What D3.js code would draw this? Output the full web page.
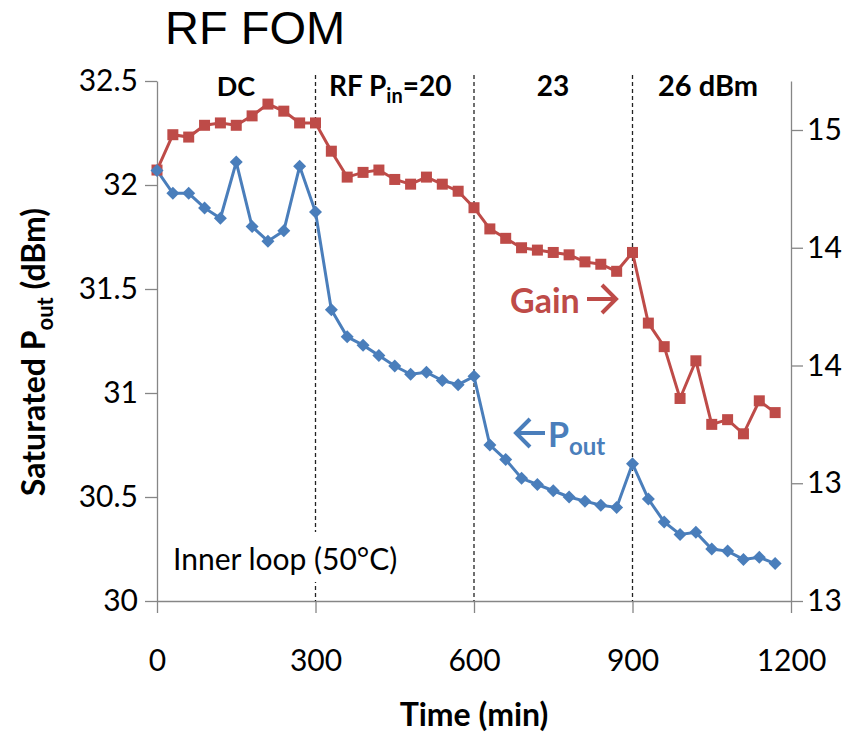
<!DOCTYPE html>
<html>
<head>
<meta charset="utf-8">
<script src="https://cdn.jsdelivr.net/npm/d3@7"></script>
<style>
  body { margin: 0; background: #fff; }
  .tick text { font-family: Lato, "Open Sans", sans-serif; fill: #000; }
</style>
</head>
<body>
<div id="chart"></div>
<script>
// data
var times = [0, 30, 60, 90, 120, 150, 180, 210, 240, 270, 300,
    330, 360, 390, 420, 450, 480, 510, 540, 570, 600,
    630, 660, 690, 720, 750, 780, 810, 840, 870, 900,
    930, 960, 990, 1020, 1050, 1080, 1110, 1140, 1170];
var pout = [32.07, 31.96, 31.96, 31.89, 31.84, 32.11, 31.80, 31.73, 31.78, 32.09, 31.87,
    31.40, 31.27, 31.23, 31.18, 31.13, 31.09, 31.10, 31.06, 31.04, 31.08,
    30.75, 30.68, 30.59, 30.56, 30.53, 30.50, 30.48, 30.46, 30.45, 30.66,
    30.49, 30.38, 30.32, 30.33, 30.25, 30.24, 30.20, 30.21, 30.18];
var gain = [14.83, 14.98, 14.97, 15.02, 15.03, 15.02, 15.06, 15.11, 15.08, 15.03, 15.03,
    14.91, 14.80, 14.82, 14.83, 14.79, 14.77, 14.80, 14.77, 14.74, 14.67,
    14.58, 14.54, 14.50, 14.49, 14.48, 14.47, 14.44, 14.43, 14.40, 14.48,
    14.18, 14.08, 13.86, 14.02, 13.75, 13.77, 13.71, 13.85, 13.80];
var xTicks = [0, 300, 600, 900, 1200];
var leftTicks = [30, 30.5, 31, 31.5, 32, 32.5];
var rightTicks = [13, 13.5, 14, 14.5, 15];
var rightTickLabels = ["13", "13", "14", "14", "15"];
var phaseBounds = [300, 600, 900];

var svgWidth = 865;
var svgHeight = 732;
var margin = { top: 81, right: 74, bottom: 131, left: 157 };
var width = svgWidth - margin.left - margin.right;
var height = svgHeight - margin.top - margin.bottom;

var blue = "#4A7EBB";
var red = "#BE4B48";
var axisGray = "#868686";

var svg = d3.select("#chart")
    .append("svg")
    .attr("width", svgWidth)
    .attr("height", svgHeight)
    .style("background", "#fff");

var chartGroup = svg.append("g")
    .attr("transform", `translate(${margin.left}, ${margin.top})`);

var xScale = d3.scaleLinear().domain([0, 1200]).range([0, width]);
var yLeft = d3.scaleLinear().domain([30, 32.5]).range([height, 0]);
// right axis: 0.5 per 117.75px, 13 at the bottom
var yRight = d3.scaleLinear().domain([13, 13 + height / 235.5]).range([height, 0]);

// axes
function styleAxis(g) {
    g.select(".domain").attr("stroke", axisGray).attr("stroke-width", 1.3);
    g.selectAll(".tick line").attr("stroke", axisGray).attr("stroke-width", 1.3);
    g.selectAll(".tick text").attr("font-size", "30px");
}

chartGroup.append("g")
    .attr("transform", `translate(0, ${height})`)
    .call(d3.axisBottom(xScale).tickValues(xTicks).tickSize(12).tickSizeOuter(0).tickPadding(37)
        .tickFormat(d3.format("d")))
    .call(styleAxis);

chartGroup.append("g")
    .call(d3.axisLeft(yLeft).tickValues(leftTicks).tickSize(12).tickSizeOuter(0).tickPadding(7)
        .tickFormat(d3.format("")))
    .call(styleAxis);

chartGroup.append("g")
    .attr("transform", `translate(${width}, 0)`)
    .call(d3.axisRight(yRight).tickValues(rightTicks).tickSize(12).tickSizeOuter(0).tickPadding(4)
        .tickFormat((d, i) => rightTickLabels[i]))
    .call(styleAxis);

// dashed phase boundaries
chartGroup.selectAll(".phase")
    .data(phaseBounds)
    .enter()
    .append("line")
    .attr("class", "phase")
    .attr("x1", d => xScale(d))
    .attr("x2", d => xScale(d))
    .attr("y1", -6)
    .attr("y2", height)
    .attr("stroke", "#222")
    .attr("stroke-width", 1.3)
    .attr("stroke-dasharray", "4,3");

// inner loop text box (white fill hides the dashed line)
chartGroup.append("rect")
    .attr("x", 3)
    .attr("y", 451)
    .attr("width", 262)
    .attr("height", 50)
    .attr("fill", "#fff");
chartGroup.append("text")
    .attr("x", 16)
    .attr("y", 489)
    .attr("font-family", "Lato, sans-serif")
    .attr("font-size", "30px")
    .text("Inner loop (50°C)");

// lines
var poutLine = d3.line().x((d, i) => xScale(times[i])).y(d => yLeft(d));
var gainLine = d3.line().x((d, i) => xScale(times[i])).y(d => yRight(d));

chartGroup.append("path")
    .datum(gain)
    .attr("fill", "none")
    .attr("stroke", red)
    .attr("stroke-width", 3)
    .attr("d", gainLine);

chartGroup.append("path")
    .datum(pout)
    .attr("fill", "none")
    .attr("stroke", blue)
    .attr("stroke-width", 3)
    .attr("d", poutLine);

// markers
chartGroup.append("g")
    .selectAll("rect")
    .data(gain)
    .enter()
    .append("rect")
    .attr("x", (d, i) => xScale(times[i]) - 5.5)
    .attr("y", d => yRight(d) - 5.5)
    .attr("width", 11)
    .attr("height", 11)
    .attr("fill", red);

chartGroup.append("g")
    .selectAll("path")
    .data(pout)
    .enter()
    .append("path")
    .attr("transform", (d, i) => `translate(${xScale(times[i])}, ${yLeft(d)})`)
    .attr("d", "M0,-6.5L6.5,0L0,6.5L-6.5,0Z")
    .attr("fill", blue);

// title
svg.append("text")
    .attr("x", 165)
    .attr("y", 44)
    .attr("font-family", "'Liberation Sans', Arial, sans-serif")
    .attr("font-size", "47px")
    .text("RF FOM");

// phase labels
var labelFont = "Lato, sans-serif";
svg.append("text")
    .attr("x", 236).attr("y", 96)
    .attr("text-anchor", "middle")
    .attr("font-family", labelFont).attr("font-weight", "bold").attr("font-size", "27px")
    .text("DC");

var rfLabel = svg.append("text")
    .attr("x", 329).attr("y", 96)
    .attr("font-family", labelFont).attr("font-weight", "bold").attr("font-size", "28px");
rfLabel.append("tspan").text("RF P");
rfLabel.append("tspan").attr("dy", 7).attr("font-size", "20px").text("in");
rfLabel.append("tspan").attr("dy", -7).text("=20");

svg.append("text")
    .attr("x", 553).attr("y", 96)
    .attr("text-anchor", "middle")
    .attr("font-family", labelFont).attr("font-weight", "bold").attr("font-size", "28px")
    .text("23");

svg.append("text")
    .attr("x", 658).attr("y", 96)
    .attr("font-family", labelFont).attr("font-weight", "bold").attr("font-size", "29px")
    .text("26 dBm");

// series labels
svg.append("text")
    .attr("x", 510).attr("y", 313)
    .attr("font-family", labelFont).attr("font-weight", "bold").attr("font-size", "34px")
    .attr("fill", red)
    .text("Gain");
svg.append("path")
    .attr("d", "M587,299L616,299M602,285L616,299L602,313")
    .attr("fill", "none")
    .attr("stroke", red)
    .attr("stroke-width", 4);

svg.append("path")
    .attr("d", "M545,433L516,433M530,419L516,433L530,447")
    .attr("fill", "none")
    .attr("stroke", blue)
    .attr("stroke-width", 4);
var poutLabel = svg.append("text")
    .attr("x", 548).attr("y", 447)
    .attr("font-family", labelFont).attr("font-weight", "bold").attr("font-size", "34px")
    .attr("fill", blue);
poutLabel.append("tspan").text("P");
poutLabel.append("tspan").attr("dy", 8).attr("font-size", "24px").text("out");

// axis titles
svg.append("text")
    .attr("x", 474).attr("y", 726)
    .attr("text-anchor", "middle")
    .attr("font-family", labelFont).attr("font-weight", "bold").attr("font-size", "32px")
    .text("Time (min)");

var yTitle = svg.append("text")
    .attr("transform", "translate(45, 352) rotate(-90)")
    .attr("text-anchor", "middle")
    .attr("font-family", labelFont).attr("font-weight", "bold").attr("font-size", "32px");
yTitle.append("tspan").text("Saturated P");
yTitle.append("tspan").attr("dy", 8).attr("font-size", "22px").text("out");
yTitle.append("tspan").attr("dy", -8).text(" (dBm)");
</script>
</body>
</html>
